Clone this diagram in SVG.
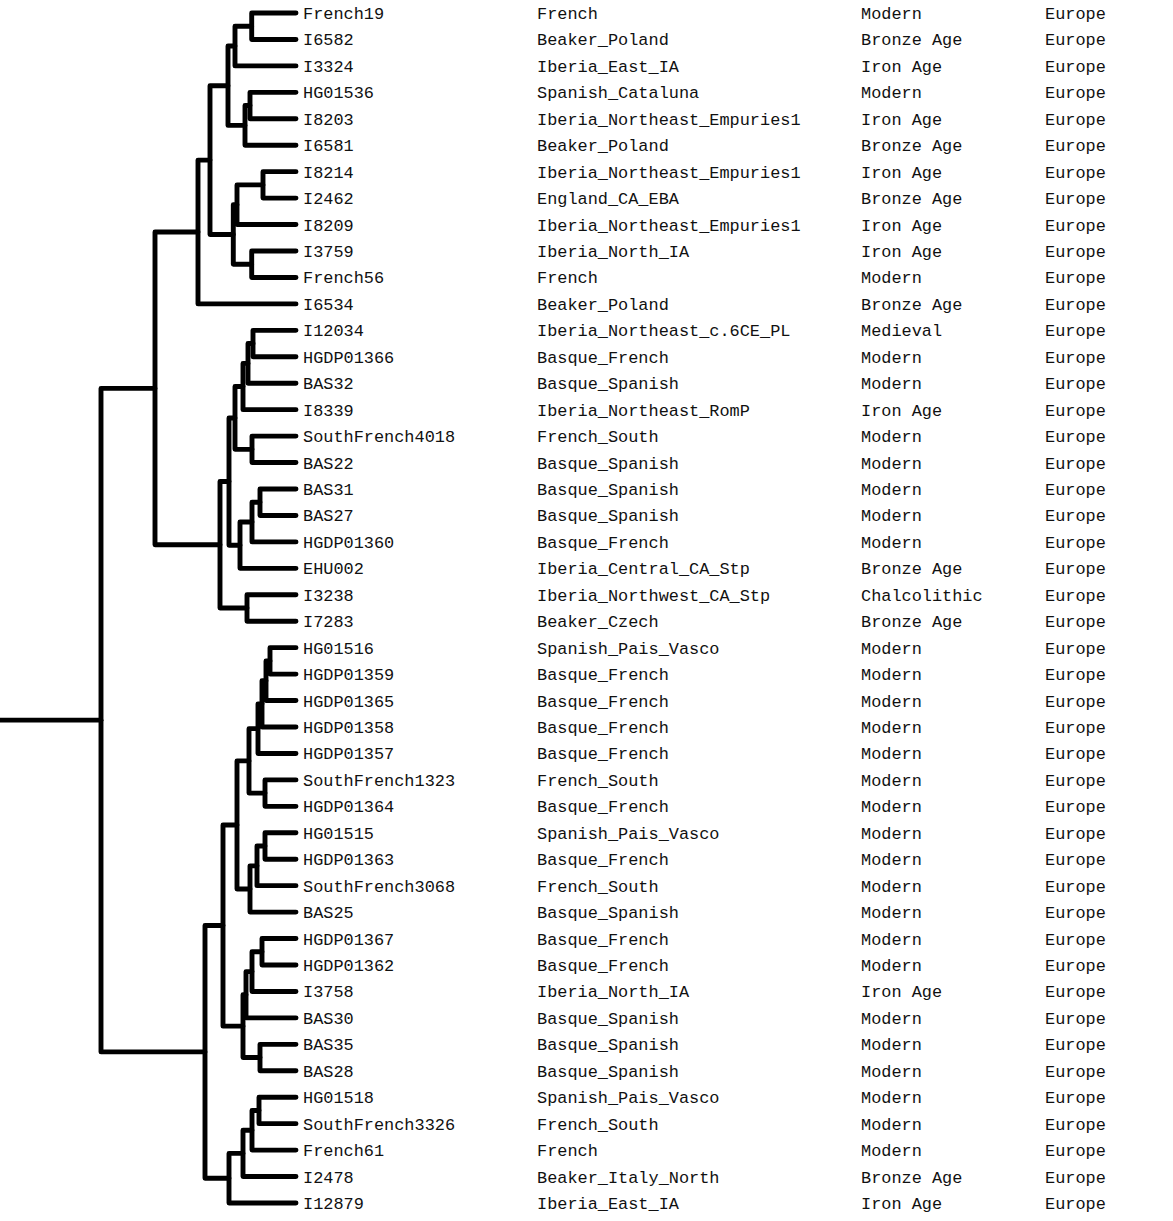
<svg xmlns="http://www.w3.org/2000/svg" width="1173" height="1221" viewBox="0 0 1173 1221">
<style>
text{font-family:"Liberation Mono","DejaVu Sans Mono",monospace;font-size:16.9px;fill:#111;}
.c{fill:none;stroke:#000;stroke-width:4.9;stroke-linecap:round;stroke-linejoin:round;}
</style>
<rect width="1173" height="1221" fill="#fff"/>
<g id="connectors" class="c">
<path d="M296 13 H251.7 V39.44 H296"/>
<path d="M251.7 26.22 H235 V65.89 H296"/>
<path d="M296 92.33 H250 V118.78 H296"/>
<path d="M250 105.56 H245 V145.22 H296"/>
<path d="M235 46.06 H228 V125.39 H245"/>
<path d="M296 171.67 H263 V198.11 H296"/>
<path d="M263 184.89 H237 V224.56 H296"/>
<path d="M296 251 H251.7 V277.44 H296"/>
<path d="M237 204.72 H233.3 V264.22 H251.7"/>
<path d="M228 85.72 H210 V234.47 H233.3"/>
<path d="M210 160.1 H198 V303.89 H296"/>
<path d="M296 330.33 H253 V356.78 H296"/>
<path d="M253 343.56 H248 V383.22 H296"/>
<path d="M248 363.39 H243 V409.67 H296"/>
<path d="M296 436.11 H252 V462.56 H296"/>
<path d="M243 386.53 H235 V449.33 H252"/>
<path d="M296 489 H260 V515.44 H296"/>
<path d="M260 502.22 H252 V541.89 H296"/>
<path d="M252 522.06 H240 V568.33 H296"/>
<path d="M235 417.93 H229 V545.19 H240"/>
<path d="M296 594.78 H247 V621.22 H296"/>
<path d="M229 481.56 H220 V608 H247"/>
<path d="M198 231.99 H155 V544.78 H220"/>
<path d="M296 647.67 H270 V674.11 H296"/>
<path d="M270 660.89 H266 V700.56 H296"/>
<path d="M266 680.72 H262 V727 H296"/>
<path d="M262 703.86 H258 V753.44 H296"/>
<path d="M296 779.89 H265 V806.33 H296"/>
<path d="M258 728.65 H249 V793.11 H265"/>
<path d="M296 832.78 H265 V859.22 H296"/>
<path d="M265 846 H257 V885.67 H296"/>
<path d="M257 865.83 H250 V912.11 H296"/>
<path d="M249 760.88 H237 V888.97 H250"/>
<path d="M296 938.56 H262 V965 H296"/>
<path d="M262 951.78 H252 V991.44 H296"/>
<path d="M252 971.61 H246 V1017.89 H296"/>
<path d="M296 1044.33 H260 V1070.78 H296"/>
<path d="M246 994.75 H243 V1057.56 H260"/>
<path d="M237 824.93 H223 V1026.15 H243"/>
<path d="M296 1097.22 H259 V1123.67 H296"/>
<path d="M259 1110.45 H252 V1150.11 H296"/>
<path d="M252 1130.28 H243 V1176.56 H296"/>
<path d="M243 1153.42 H229 V1203 H296"/>
<path d="M223 925.54 H205 V1178.21 H229"/>
<path d="M155 388.39 H101 V1051.88 H205"/>
<path d="M0 720.13 H101"/>
</g>
<g id="leaf-French19"><text x="303" y="19">French19</text><text x="537" y="19">French</text><text x="861" y="19">Modern</text><text x="1045" y="19">Europe</text></g>
<g id="leaf-I6582"><text x="303" y="45.44">I6582</text><text x="537" y="45.44">Beaker_Poland</text><text x="861" y="45.44">Bronze Age</text><text x="1045" y="45.44">Europe</text></g>
<g id="leaf-I3324"><text x="303" y="71.89">I3324</text><text x="537" y="71.89">Iberia_East_IA</text><text x="861" y="71.89">Iron Age</text><text x="1045" y="71.89">Europe</text></g>
<g id="leaf-HG01536"><text x="303" y="98.33">HG01536</text><text x="537" y="98.33">Spanish_Cataluna</text><text x="861" y="98.33">Modern</text><text x="1045" y="98.33">Europe</text></g>
<g id="leaf-I8203"><text x="303" y="124.78">I8203</text><text x="537" y="124.78">Iberia_Northeast_Empuries1</text><text x="861" y="124.78">Iron Age</text><text x="1045" y="124.78">Europe</text></g>
<g id="leaf-I6581"><text x="303" y="151.22">I6581</text><text x="537" y="151.22">Beaker_Poland</text><text x="861" y="151.22">Bronze Age</text><text x="1045" y="151.22">Europe</text></g>
<g id="leaf-I8214"><text x="303" y="177.67">I8214</text><text x="537" y="177.67">Iberia_Northeast_Empuries1</text><text x="861" y="177.67">Iron Age</text><text x="1045" y="177.67">Europe</text></g>
<g id="leaf-I2462"><text x="303" y="204.11">I2462</text><text x="537" y="204.11">England_CA_EBA</text><text x="861" y="204.11">Bronze Age</text><text x="1045" y="204.11">Europe</text></g>
<g id="leaf-I8209"><text x="303" y="230.56">I8209</text><text x="537" y="230.56">Iberia_Northeast_Empuries1</text><text x="861" y="230.56">Iron Age</text><text x="1045" y="230.56">Europe</text></g>
<g id="leaf-I3759"><text x="303" y="257">I3759</text><text x="537" y="257">Iberia_North_IA</text><text x="861" y="257">Iron Age</text><text x="1045" y="257">Europe</text></g>
<g id="leaf-French56"><text x="303" y="283.44">French56</text><text x="537" y="283.44">French</text><text x="861" y="283.44">Modern</text><text x="1045" y="283.44">Europe</text></g>
<g id="leaf-I6534"><text x="303" y="309.89">I6534</text><text x="537" y="309.89">Beaker_Poland</text><text x="861" y="309.89">Bronze Age</text><text x="1045" y="309.89">Europe</text></g>
<g id="leaf-I12034"><text x="303" y="336.33">I12034</text><text x="537" y="336.33">Iberia_Northeast_c.6CE_PL</text><text x="861" y="336.33">Medieval</text><text x="1045" y="336.33">Europe</text></g>
<g id="leaf-HGDP01366"><text x="303" y="362.78">HGDP01366</text><text x="537" y="362.78">Basque_French</text><text x="861" y="362.78">Modern</text><text x="1045" y="362.78">Europe</text></g>
<g id="leaf-BAS32"><text x="303" y="389.22">BAS32</text><text x="537" y="389.22">Basque_Spanish</text><text x="861" y="389.22">Modern</text><text x="1045" y="389.22">Europe</text></g>
<g id="leaf-I8339"><text x="303" y="415.67">I8339</text><text x="537" y="415.67">Iberia_Northeast_RomP</text><text x="861" y="415.67">Iron Age</text><text x="1045" y="415.67">Europe</text></g>
<g id="leaf-SouthFrench4018"><text x="303" y="442.11">SouthFrench4018</text><text x="537" y="442.11">French_South</text><text x="861" y="442.11">Modern</text><text x="1045" y="442.11">Europe</text></g>
<g id="leaf-BAS22"><text x="303" y="468.56">BAS22</text><text x="537" y="468.56">Basque_Spanish</text><text x="861" y="468.56">Modern</text><text x="1045" y="468.56">Europe</text></g>
<g id="leaf-BAS31"><text x="303" y="495">BAS31</text><text x="537" y="495">Basque_Spanish</text><text x="861" y="495">Modern</text><text x="1045" y="495">Europe</text></g>
<g id="leaf-BAS27"><text x="303" y="521.44">BAS27</text><text x="537" y="521.44">Basque_Spanish</text><text x="861" y="521.44">Modern</text><text x="1045" y="521.44">Europe</text></g>
<g id="leaf-HGDP01360"><text x="303" y="547.89">HGDP01360</text><text x="537" y="547.89">Basque_French</text><text x="861" y="547.89">Modern</text><text x="1045" y="547.89">Europe</text></g>
<g id="leaf-EHU002"><text x="303" y="574.33">EHU002</text><text x="537" y="574.33">Iberia_Central_CA_Stp</text><text x="861" y="574.33">Bronze Age</text><text x="1045" y="574.33">Europe</text></g>
<g id="leaf-I3238"><text x="303" y="600.78">I3238</text><text x="537" y="600.78">Iberia_Northwest_CA_Stp</text><text x="861" y="600.78">Chalcolithic</text><text x="1045" y="600.78">Europe</text></g>
<g id="leaf-I7283"><text x="303" y="627.22">I7283</text><text x="537" y="627.22">Beaker_Czech</text><text x="861" y="627.22">Bronze Age</text><text x="1045" y="627.22">Europe</text></g>
<g id="leaf-HG01516"><text x="303" y="653.67">HG01516</text><text x="537" y="653.67">Spanish_Pais_Vasco</text><text x="861" y="653.67">Modern</text><text x="1045" y="653.67">Europe</text></g>
<g id="leaf-HGDP01359"><text x="303" y="680.11">HGDP01359</text><text x="537" y="680.11">Basque_French</text><text x="861" y="680.11">Modern</text><text x="1045" y="680.11">Europe</text></g>
<g id="leaf-HGDP01365"><text x="303" y="706.56">HGDP01365</text><text x="537" y="706.56">Basque_French</text><text x="861" y="706.56">Modern</text><text x="1045" y="706.56">Europe</text></g>
<g id="leaf-HGDP01358"><text x="303" y="733">HGDP01358</text><text x="537" y="733">Basque_French</text><text x="861" y="733">Modern</text><text x="1045" y="733">Europe</text></g>
<g id="leaf-HGDP01357"><text x="303" y="759.44">HGDP01357</text><text x="537" y="759.44">Basque_French</text><text x="861" y="759.44">Modern</text><text x="1045" y="759.44">Europe</text></g>
<g id="leaf-SouthFrench1323"><text x="303" y="785.89">SouthFrench1323</text><text x="537" y="785.89">French_South</text><text x="861" y="785.89">Modern</text><text x="1045" y="785.89">Europe</text></g>
<g id="leaf-HGDP01364"><text x="303" y="812.33">HGDP01364</text><text x="537" y="812.33">Basque_French</text><text x="861" y="812.33">Modern</text><text x="1045" y="812.33">Europe</text></g>
<g id="leaf-HG01515"><text x="303" y="838.78">HG01515</text><text x="537" y="838.78">Spanish_Pais_Vasco</text><text x="861" y="838.78">Modern</text><text x="1045" y="838.78">Europe</text></g>
<g id="leaf-HGDP01363"><text x="303" y="865.22">HGDP01363</text><text x="537" y="865.22">Basque_French</text><text x="861" y="865.22">Modern</text><text x="1045" y="865.22">Europe</text></g>
<g id="leaf-SouthFrench3068"><text x="303" y="891.67">SouthFrench3068</text><text x="537" y="891.67">French_South</text><text x="861" y="891.67">Modern</text><text x="1045" y="891.67">Europe</text></g>
<g id="leaf-BAS25"><text x="303" y="918.11">BAS25</text><text x="537" y="918.11">Basque_Spanish</text><text x="861" y="918.11">Modern</text><text x="1045" y="918.11">Europe</text></g>
<g id="leaf-HGDP01367"><text x="303" y="944.56">HGDP01367</text><text x="537" y="944.56">Basque_French</text><text x="861" y="944.56">Modern</text><text x="1045" y="944.56">Europe</text></g>
<g id="leaf-HGDP01362"><text x="303" y="971">HGDP01362</text><text x="537" y="971">Basque_French</text><text x="861" y="971">Modern</text><text x="1045" y="971">Europe</text></g>
<g id="leaf-I3758"><text x="303" y="997.44">I3758</text><text x="537" y="997.44">Iberia_North_IA</text><text x="861" y="997.44">Iron Age</text><text x="1045" y="997.44">Europe</text></g>
<g id="leaf-BAS30"><text x="303" y="1023.89">BAS30</text><text x="537" y="1023.89">Basque_Spanish</text><text x="861" y="1023.89">Modern</text><text x="1045" y="1023.89">Europe</text></g>
<g id="leaf-BAS35"><text x="303" y="1050.33">BAS35</text><text x="537" y="1050.33">Basque_Spanish</text><text x="861" y="1050.33">Modern</text><text x="1045" y="1050.33">Europe</text></g>
<g id="leaf-BAS28"><text x="303" y="1076.78">BAS28</text><text x="537" y="1076.78">Basque_Spanish</text><text x="861" y="1076.78">Modern</text><text x="1045" y="1076.78">Europe</text></g>
<g id="leaf-HG01518"><text x="303" y="1103.22">HG01518</text><text x="537" y="1103.22">Spanish_Pais_Vasco</text><text x="861" y="1103.22">Modern</text><text x="1045" y="1103.22">Europe</text></g>
<g id="leaf-SouthFrench3326"><text x="303" y="1129.67">SouthFrench3326</text><text x="537" y="1129.67">French_South</text><text x="861" y="1129.67">Modern</text><text x="1045" y="1129.67">Europe</text></g>
<g id="leaf-French61"><text x="303" y="1156.11">French61</text><text x="537" y="1156.11">French</text><text x="861" y="1156.11">Modern</text><text x="1045" y="1156.11">Europe</text></g>
<g id="leaf-I2478"><text x="303" y="1182.56">I2478</text><text x="537" y="1182.56">Beaker_Italy_North</text><text x="861" y="1182.56">Bronze Age</text><text x="1045" y="1182.56">Europe</text></g>
<g id="leaf-I12879"><text x="303" y="1209">I12879</text><text x="537" y="1209">Iberia_East_IA</text><text x="861" y="1209">Iron Age</text><text x="1045" y="1209">Europe</text></g>
</svg>
